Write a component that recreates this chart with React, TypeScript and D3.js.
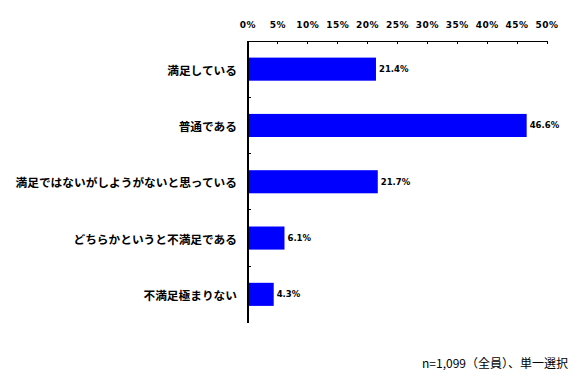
import React from "react";
import * as d3 from "d3";

const categories = [
  "満足している",
  "普通である",
  "満足ではないがしようがないと思っている",
  "どちらかというと不満足である",
  "不満足極まりない",
];
const values = [21.4, 46.6, 21.7, 6.1, 4.3];
const tickValues = [0, 5, 10, 15, 20, 25, 30, 35, 40, 45, 50];
const footnote = "n=1,099（全員）、単一選択";

export default function App() {
  const W = 580, H = 383;
  const left = 248, right = 547, top = 41, bottom = 322.5;
  const x = d3.scaleLinear().domain([0, 50]).range([left, right]);
  const y = d3.scaleBand<string>().domain(categories).range([top, bottom]).paddingInner(0.59).paddingOuter(0.295);
  const step = y.step();
  const jp = "'Noto Sans CJK JP', sans-serif";
  return (
    <svg width={W} height={H} style={{ position: "absolute", left: 0, top: 0 }}>
      <rect width={W} height={H} fill="#fff" />
      {categories.map((c, i) => (
        <rect key={c} x={x(0)} y={y(c)!} width={x(values[i]) - x(0)} height={y.bandwidth()} fill="#0000ff" />
      ))}
      <line x1={left} x2={right} y1={top} y2={top} stroke="#000" strokeWidth={1} shapeRendering="crispEdges" />
      <line x1={left} x2={left} y1={top} y2={bottom} stroke="#000" strokeWidth={1.5} shapeRendering="crispEdges" />
      {tickValues.map((t) => (
        <g key={t}>
          <line x1={x(t)} x2={x(t)} y1={top} y2={top + 3} stroke="#000" shapeRendering="crispEdges" />
          <text x={x(t)} y={25} textAnchor="middle" dominantBaseline="central" fontFamily="'DejaVu Sans', sans-serif" fontWeight="bold" fontSize={9} letterSpacing={0.5}>
            {t}%
          </text>
        </g>
      ))}
      {categories.slice(1).map((c, i) => (
        <line key={c} x1={left} x2={left + 3} y1={top + step * (i + 1)} y2={top + step * (i + 1)} stroke="#000" shapeRendering="crispEdges" />
      ))}
      {categories.map((c, i) => (
        <text key={c} x={237} y={y(c)! + y.bandwidth() / 2} textAnchor="end" dominantBaseline="central" fontFamily={jp} fontWeight="bold" fontSize={11.7}>
          {c}
        </text>
      ))}
      {categories.map((c, i) => (
        <text key={c} x={x(values[i]) + 3} y={y(c)! + y.bandwidth() / 2} dominantBaseline="central" fontFamily="'DejaVu Sans', sans-serif" fontWeight="bold" fontSize={8.5}>
          {values[i].toFixed(1)}%
        </text>
      ))}
      <text x={568} y={362} textAnchor="end" dominantBaseline="central" fontFamily={jp} fontSize={12}>
        {footnote}
      </text>
    </svg>
  );
}
